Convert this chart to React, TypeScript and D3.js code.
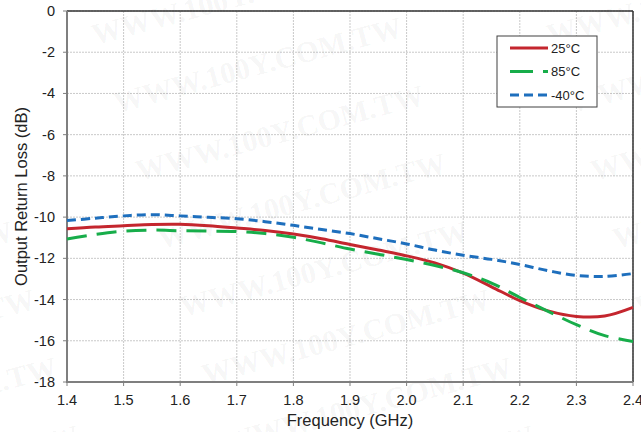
import React from "react";
import * as d3 from "d3";

// Output return loss vs frequency at three temperatures
const freqGHz = [1.4, 1.45, 1.5, 1.55, 1.6, 1.65, 1.7, 1.75, 1.8, 1.85, 1.9, 1.95, 2.0, 2.05, 2.1, 2.15, 2.2, 2.25, 2.3, 2.35, 2.4];
const loss25C = [-10.57, -10.48, -10.42, -10.36, -10.35, -10.42, -10.53, -10.65, -10.82, -11.05, -11.33, -11.6, -11.88, -12.22, -12.72, -13.38, -14.05, -14.55, -14.82, -14.8, -14.38];
const loss85C = [-11.06, -10.84, -10.68, -10.63, -10.66, -10.68, -10.7, -10.8, -10.98, -11.25, -11.55, -11.8, -12.06, -12.35, -12.7, -13.2, -13.9, -14.57, -15.22, -15.75, -16.03];
const lossM40C = [-10.17, -10.05, -9.94, -9.88, -9.94, -10.01, -10.08, -10.22, -10.4, -10.6, -10.8, -11.05, -11.3, -11.6, -11.85, -12.05, -12.3, -12.6, -12.83, -12.88, -12.74];

const xTicks = [1.4, 1.5, 1.6, 1.7, 1.8, 1.9, 2.0, 2.1, 2.2, 2.3, 2.4];
const yTicks = [0, -2, -4, -6, -8, -10, -12, -14, -16, -18];

const seriesNames = ["25°C", "85°C", "-40°C"];
const seriesValues = [loss25C, loss85C, lossM40C];
const seriesColors = ["#c4262e", "#17ad4a", "#1e6fbd"];
const seriesDash = ["none", "20 10", "9 5"];

const W = 641;
const H = 432;
const M = { left: 67, right: 633, top: 11, bottom: 382 };
const FONT = "'Liberation Sans', Arial, sans-serif";

export default function App() {
  const x = d3.scaleLinear().domain([1.4, 2.4]).range([M.left, M.right]);
  const y = d3.scaleLinear().domain([-18, 0]).range([M.bottom, M.top]);

  const line = d3
    .line<number>()
    .x((_, i) => x(freqGHz[i]))
    .y((d) => y(d))
    .curve(d3.curveCatmullRom.alpha(0.5));

  // tiled background watermark
  const marks: { tx: number; ty: number }[] = [];
  for (let r = -2; r < 9; r++) {
    for (let c = -1; c < 3; c++) {
      marks.push({ tx: 95 + c * 455 + r * 22, ty: 45 + r * 68 });
    }
  }

  const legendX = 497;
  const legendY = 36;

  return (
    <svg
      width={W}
      height={H}
      style={{ position: "absolute", left: 0, top: 0, background: "#fff" }}
      fontFamily={FONT}
    >
      <rect x={0} y={0} width={W} height={H} fill="#fff" />

      {/* grid */}
      {xTicks.map((t) => (
        <line key={"gx" + t} x1={x(t)} x2={x(t)} y1={M.top} y2={M.bottom} stroke="#c9c9c9" strokeWidth={1} strokeDasharray="2 1" />
      ))}
      {yTicks.map((t) => (
        <line key={"gy" + t} x1={M.left} x2={M.right} y1={y(t)} y2={y(t)} stroke="#c9c9c9" strokeWidth={1} strokeDasharray="2 1" />
      ))}

      {/* watermark */}
      <g fill="#000" fillOpacity={0.05} fontFamily="'Liberation Serif', 'Times New Roman', serif" fontWeight="bold" fontSize={30}>
        {marks.map((m, i) => (
          <text key={i} transform={`translate(${m.tx},${m.ty}) rotate(-15)`}>
            WWW.100Y.COM.TW
          </text>
        ))}
      </g>

      {/* frame */}
      <line x1={M.left} x2={M.right} y1={M.top} y2={M.top} stroke="#333" strokeWidth={1.5} />
      <line x1={M.right} x2={M.right} y1={M.top} y2={M.bottom} stroke="#333" strokeWidth={1.5} />
      <line x1={M.left} x2={M.left} y1={M.top} y2={M.bottom + 1} stroke="#7f7f7f" strokeWidth={2} />
      <line x1={M.left - 1} x2={M.right} y1={M.bottom} y2={M.bottom} stroke="#7f7f7f" strokeWidth={2} />

      {/* ticks */}
      {xTicks.map((t) => (
        <line key={"tx" + t} x1={x(t)} x2={x(t)} y1={M.bottom} y2={M.bottom + 4} stroke="#7f7f7f" strokeWidth={1} />
      ))}
      {yTicks.map((t) => (
        <line key={"ty" + t} x1={M.left - 4} x2={M.left} y1={y(t)} y2={y(t)} stroke="#7f7f7f" strokeWidth={1} />
      ))}

      {/* series */}
      {seriesValues.map((vals, i) => (
        <path
          key={"s" + i}
          d={line(vals) || ""}
          fill="none"
          stroke={seriesColors[i]}
          strokeWidth={3}
          strokeDasharray={seriesDash[i]}
        />
      ))}

      {/* tick labels */}
      {xTicks.map((t) => (
        <text key={"lx" + t} x={x(t)} y={404.5} textAnchor="middle" fontSize={14.5} fill="#222">
          {t.toFixed(1)}
        </text>
      ))}
      {yTicks.map((t) => (
        <text key={"ly" + t} x={55} y={y(t) + 5} textAnchor="end" fontSize={14.5} fill="#222">
          {t}
        </text>
      ))}

      {/* axis titles */}
      <text x={350} y={426} textAnchor="middle" fontSize={16.5} fill="#222">
        Frequency (GHz)
      </text>
      <text transform={`translate(27,${(M.top + M.bottom) / 2}) rotate(-90)`} textAnchor="middle" fontSize={16.5} fill="#222">
        Output Return Loss (dB)
      </text>

      {/* legend */}
      <rect x={legendX} y={legendY} width={100} height={71} fill="#fff" stroke="#404040" strokeWidth={1} />
      {seriesNames.map((n, i) => (
        <g key={"lg" + i}>
          <line
            x1={legendX + 13}
            x2={legendX + 51}
            y1={legendY + 12 + i * 23.5}
            y2={legendY + 12 + i * 23.5}
            stroke={seriesColors[i]}
            strokeWidth={3}
            strokeDasharray={i === 1 ? "23 10" : seriesDash[i]}
          />
          <text x={legendX + 54} y={legendY + 16.5 + i * 23.5} fontSize={13} fill="#222">
            {n}
          </text>
        </g>
      ))}
    </svg>
  );
}
